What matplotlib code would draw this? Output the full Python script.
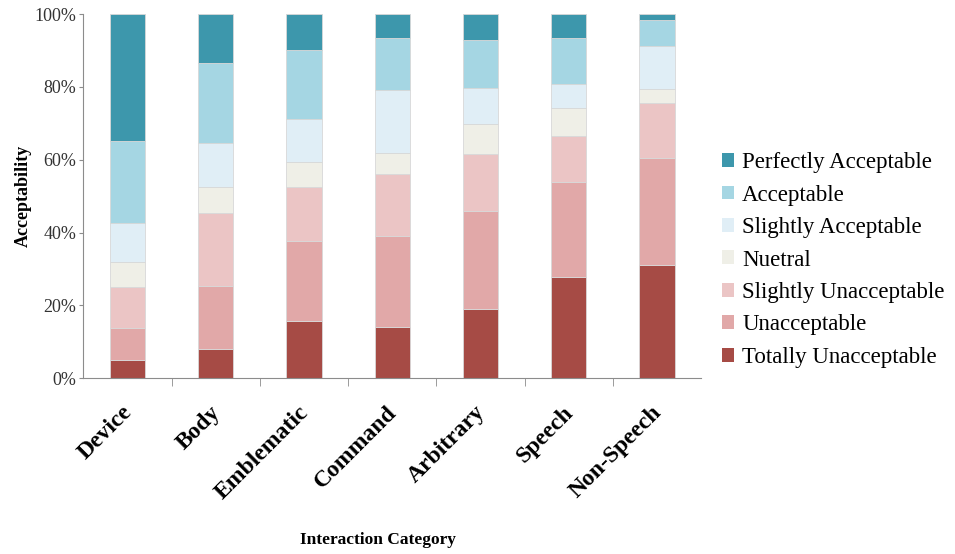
import numpy as np
import matplotlib.pyplot as plt
from matplotlib.ticker import PercentFormatter, FixedLocator

# categories and response shares (percent of each category)
categories = ["Device", "Body", "Emblematic", "Command", "Arbitrary", "Speech", "Non-Speech"]
levels = ["Totally Unacceptable", "Unacceptable", "Slightly Unacceptable", "Nuetral",
          "Slightly Acceptable", "Acceptable", "Perfectly Acceptable"]

totally_unacceptable = [5.0, 8.0, 15.7, 14.2, 19.1, 27.9, 31.1]
unacceptable = [8.8, 17.4, 22.0, 24.9, 26.8, 26.0, 29.5]
slightly_unacceptable = [11.3, 20.1, 14.7, 17.1, 15.6, 12.5, 14.9]
neutral = [6.9, 7.1, 7.1, 5.7, 8.2, 7.7, 4.0]
slightly_acceptable = [10.5, 11.9, 11.8, 17.2, 10.1, 6.8, 11.8]
acceptable = [22.6, 22.0, 18.8, 14.2, 13.0, 12.4, 7.1]
perfectly_acceptable = [34.9, 13.5, 9.9, 6.7, 7.2, 6.7, 1.6]

colors = ["#a64b45", "#e1a8a8", "#ebc5c5", "#efefe7", "#e0eef6", "#a5d6e3", "#3d97ac"]

series = [totally_unacceptable, unacceptable, slightly_unacceptable, neutral,
          slightly_acceptable, acceptable, perfectly_acceptable]

plt.rcParams["font.family"] = ["Liberation Serif", "DejaVu Serif"]

fig = plt.figure(figsize=(9.55, 5.54), dpi=100)
ax = fig.add_axes([0.0872, 0.3171, 0.6471, 0.6576])

x = np.arange(len(categories))
bottom = np.zeros(len(categories))
for vals, name, col in zip(series, levels, colors):
    vals = np.array(vals)
    ax.bar(x, vals, bottom=bottom, width=0.4, color=col, label=name,
           edgecolor="#d8d8d8", linewidth=0.6)
    bottom += vals

ax.set_xlim(-0.5, len(categories) - 0.5)
ax.set_ylim(0, 100)
ax.yaxis.set_major_formatter(PercentFormatter(decimals=0))
ax.set_yticks(range(0, 101, 20))

# category labels in the middle, tick marks on the boundaries
ax.set_xticks(x - 0.07)
ax.set_xticklabels(categories, rotation=45, ha="right", rotation_mode="anchor",
                   fontsize=17, fontweight="bold")
ax.tick_params(axis="x", which="major", length=0, pad=17)
ax.xaxis.set_minor_locator(FixedLocator(np.arange(0.5, len(categories) - 0.5, 1)))
ax.tick_params(axis="x", which="minor", length=6, color="#8c8c8c", direction="out")
ax.tick_params(axis="y", length=3, pad=2, color="#8c8c8c", labelsize=13, labelcolor="#333333")

for s in ["top", "right"]:
    ax.spines[s].set_visible(False)
for s in ["left", "bottom"]:
    ax.spines[s].set_color("#8c8c8c")

ax.set_ylabel("Acceptability", fontsize=13, fontweight="bold", labelpad=2)
fig.text(378 / 955, 1 - 540 / 554, "Interaction Category", ha="center", va="center",
         fontsize=12.5, fontweight="bold")

handles, labels = ax.get_legend_handles_labels()
leg = fig.legend(handles[::-1], labels[::-1], loc="center left",
                 bbox_to_anchor=(0.734, 1 - 260 / 554), frameon=False, fontsize=16.5,
                 handlelength=0.55, handleheight=0.55, handletextpad=0.35,
                 labelspacing=0.5)
for h in leg.legend_handles:
    h.set_edgecolor("none")

fig.savefig("out.png", dpi=100)
